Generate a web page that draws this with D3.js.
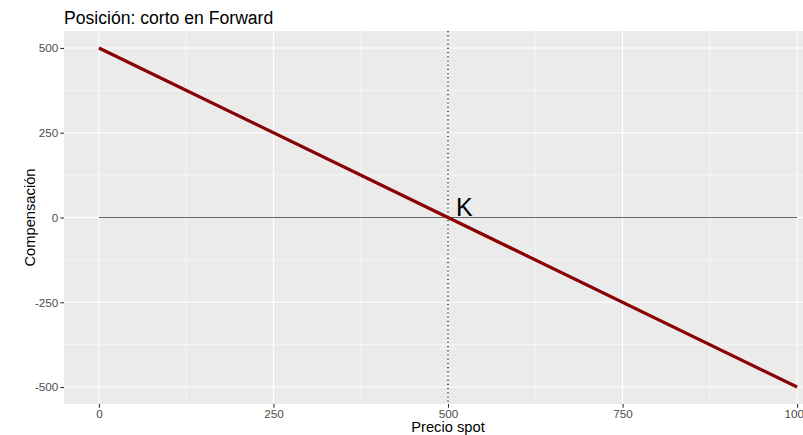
<!DOCTYPE html>
<html><head><meta charset="utf-8">
<script src="https://cdn.jsdelivr.net/npm/d3@7"></script>
<style>body{margin:0;background:#fff;overflow:hidden}svg{display:block}text{font-family:"Liberation Sans",Arial,sans-serif}</style>
</head><body><svg id="c" width="803" height="435"></svg>
<script>
const title = "Posición: corto en Forward";
const xTitle = "Precio spot";
const yTitle = "Compensación";
const spot = [0, 1000];
const payoff = [500, -500];
const strike = 500;
const strikeLabel = "K";
const xTicks = [0, 250, 500, 750, 1000];
const yTicks = [-500, -250, 0, 250, 500];
const xMinor = [125, 375, 625, 875];
const yMinor = [-375, -125, 125, 375];

const svg = d3.select("#c");
const L = 64, R = 832, T = 31, B = 404;
const x = d3.scaleLinear().domain([-50, 1050]).range([L, R]);
const y = d3.scaleLinear().domain([-550, 550]).range([B, T]);

svg.append("rect").attr("x", L).attr("y", T).attr("width", R - L).attr("height", B - T).attr("fill", "#EBEBEB");
const g = svg.append("g");
g.selectAll(".xm").data(xMinor).join("line").attr("x1", d => x(d)).attr("x2", d => x(d)).attr("y1", T).attr("y2", B).attr("stroke", "#fff").attr("stroke-width", 0.55);
g.selectAll(".ym").data(yMinor).join("line").attr("y1", d => y(d)).attr("y2", d => y(d)).attr("x1", L).attr("x2", R).attr("stroke", "#fff").attr("stroke-width", 0.55);
g.selectAll(".xM").data(xTicks).join("line").attr("x1", d => x(d)).attr("x2", d => x(d)).attr("y1", T).attr("y2", B).attr("stroke", "#fff").attr("stroke-width", 1.1);
g.selectAll(".yM").data(yTicks).join("line").attr("y1", d => y(d)).attr("y2", d => y(d)).attr("x1", L).attr("x2", R).attr("stroke", "#fff").attr("stroke-width", 1.1);

svg.append("line").attr("x1", x(spot[0])).attr("x2", x(spot[1])).attr("y1", y(0)).attr("y2", y(0)).attr("stroke", "#000").attr("stroke-width", 0.6);
svg.append("line").attr("x1", x(strike)).attr("x2", x(strike)).attr("y1", T).attr("y2", B).attr("stroke", "#000").attr("stroke-width", 1.2).attr("stroke-dasharray", "1.2,3");
const pts = spot.map((s, i) => [s, payoff[i]]);
svg.append("path").attr("d", d3.line().x(d => x(d[0])).y(d => y(d[1]))(pts)).attr("stroke", "#8B0000").attr("stroke-width", 3.2).attr("fill", "none");
svg.append("text").attr("x", x(strike) + 8).attr("y", y(0) - 2).attr("font-size", 25).attr("fill", "#000").text(strikeLabel);

const fmt = d => String(d);
const xa = svg.append("g").attr("transform", `translate(0,${B})`).call(d3.axisBottom(x).tickValues(xTicks).tickFormat(fmt).tickSize(3.7).tickPadding(2));
const ya = svg.append("g").attr("transform", `translate(${L},0)`).call(d3.axisLeft(y).tickValues(yTicks).tickFormat(fmt).tickSize(3.7).tickPadding(2));
[xa, ya].forEach(a => {
  a.select(".domain").remove();
  a.selectAll(".tick line").attr("stroke", "#333").attr("stroke-width", 1.1);
  a.selectAll(".tick text").attr("fill", "#4D4D4D").attr("font-size", 11.7).attr("font-family", "Liberation Sans, Arial, sans-serif");
});

svg.append("text").attr("x", (L + R) / 2).attr("y", 432).attr("text-anchor", "middle").attr("font-size", 14.7).attr("fill", "#000").text(xTitle);
svg.append("text").attr("transform", `translate(35,${(T + B) / 2}) rotate(-90)`).attr("text-anchor", "middle").attr("font-size", 14.7).attr("fill", "#000").text(yTitle);
svg.append("text").attr("x", L).attr("y", 24).attr("font-size", 17.6).attr("fill", "#000").text(title);
</script></body></html>
